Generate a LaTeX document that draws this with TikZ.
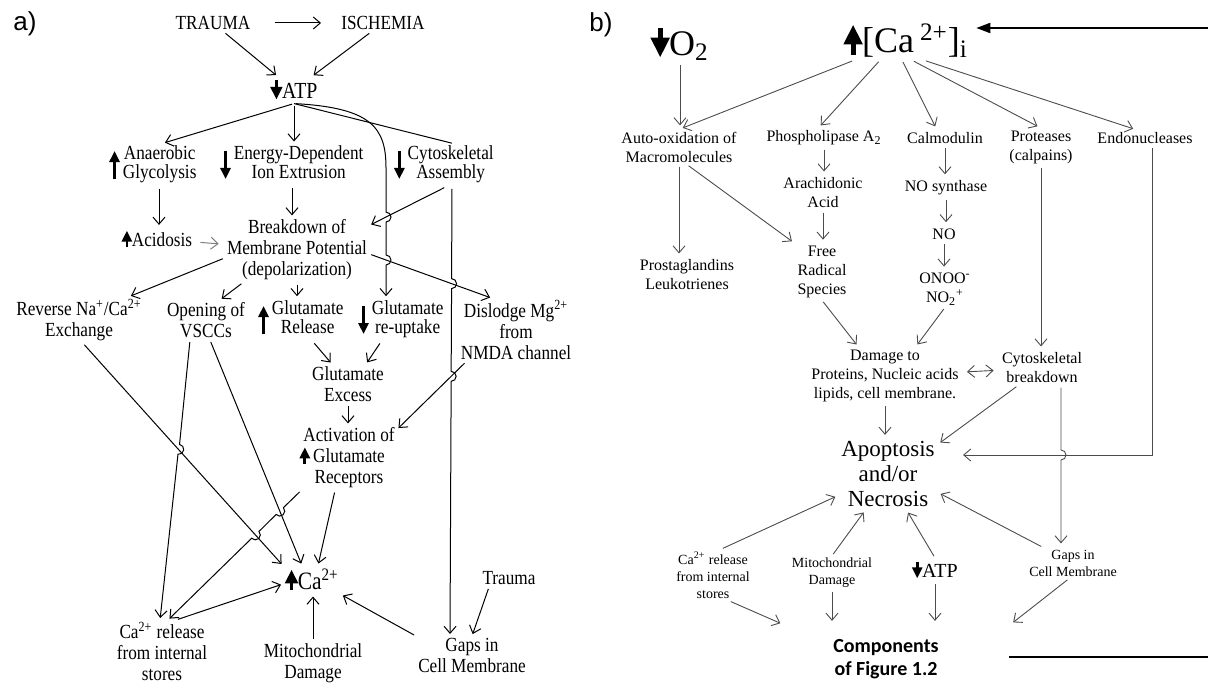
\documentclass[tikz,border=0pt]{standalone}
\usepackage{fontspec}
\setmainfont{Liberation Serif}
\newfontfamily\narrowserif[FakeStretch=0.86]{Liberation Serif}
\newfontfamily\panelsans{Liberation Sans}
\newfontfamily\calisans{Carlito}
\usetikzlibrary{arrows.meta,positioning,calc,intersections}

% bold up/down marks in front of the labels
\newcommand{\upar}{\tikz[baseline=0pt]\draw[fatarrow] (0,-.05em) -- (0,.78em);}
\newcommand{\dnar}{\tikz[baseline=0pt]\draw[fatarrow] (0,.78em) -- (0,-.05em);}
\newcommand{\upars}{\tikz[baseline=0pt]\draw[fatarrow] (0,-.45em) -- (0,.95em);}
\newcommand{\dnars}{\tikz[baseline=0pt]\draw[fatarrow] (0,.95em) -- (0,-.45em);}
\newcommand{\stk}[1]{{\renewcommand{\arraystretch}{.875}\begin{tabular}{@{}c@{}}#1\end{tabular}}}

\tikzset{
  >={Straight Barb[length=3.5pt,width=6pt]},
  fatarrow/.style={line width=.14em, -{Triangle[length=.55em,width=.5em]}},
  tag/.style={font=\panelsans\fontsize{13}{15}\selectfont, inner sep=0pt},
  lft/.style={font=\narrowserif\fontsize{10}{10.5}\selectfont, align=center, inner sep=1pt},
  lbig/.style={font=\narrowserif\fontsize{11.5}{12}\selectfont, inner sep=1pt},
  rgt/.style={font=\fontsize{8}{9.5}\selectfont, align=center, inner sep=1pt},
  rsm/.style={font=\fontsize{7}{8.5}\selectfont, align=center, inner sep=1pt},
  rbig/.style={font=\fontsize{18}{20}\selectfont, inner sep=1pt},
  apobox/.style={font=\fontsize{11.5}{12.5}\selectfont, align=center, inner sep=1pt},
  compbox/.style={font=\calisans\bfseries\fontsize{10}{11.5}\selectfont, align=center, inner sep=1pt},
  arr/.style={->, line width=.5pt, shorten <=1pt, shorten >=1pt},
  rarr/.style={->, line width=.45pt, black!70, shorten <=1pt, shorten >=2pt},
  thickarr/.style={line width=1pt, -{Triangle[length=7pt,width=5pt]}},
  frameline/.style={line width=1pt},
}

\begin{document}
\begin{tikzpicture}[x=0.5pt,y=-0.5pt]
\useasboundingbox (0,0) rectangle (1208,684);
\clip (0,0) rectangle (1208,684);

% ---------- panel a
\node[tag] (ta) at (25,24) {a)};
\node[lft] (trauma) at (213,23) {TRAUMA};
\node[lft] (ischemia) at (383,23) {ISCHEMIA};
\node[lbig] (atp) at (294,90) {\dnar ATP};
\node[lft] (glyc) at (153,165) {\upars\,\stk{Anaerobic\\Glycolysis}};
\node[lft] (ext) at (292,165) {\dnars\,\stk{Energy-Dependent\\Ion Extrusion}};
\node[lft] (cyto) at (444,165) {\dnars\,\stk{Cytoskeletal\\Assembly}};
\node[lft] (acid) at (157,239) {\upar Acidosis};
\node[lft] (brk) at (297,250) {Breakdown of\\Membrane Potential\\(depolarization)};
\node[lft] (rev) at (79,320) {Reverse Na\textsuperscript{+}/Ca\textsuperscript{2+}\\Exchange};
\node[lft] (vscc) at (206,320) {Opening of\\VSCCs};
\node[lft] (rel) at (301,320) {\upars\,\stk{Glutamate\\Release}};
\node[lft] (upt) at (401,320) {\dnars\,\stk{Glutamate\\re-uptake}};
\node[lft] (mg) at (516,330) {Dislodge Mg\textsuperscript{2+}\\from\\NMDA channel};
\node[lft] (exc) at (348,384) {Glutamate\\Excess};
\node[lft] (act) at (349,458) {Activation of\\\llap{\upar\,}Glutamate\\Receptors};
\node[lbig, font=\narrowserif\fontsize{12.5}{14}\selectfont] (ca) at (312,580) {\upar Ca\textsuperscript{2+}};
\node[lft] (trauma2) at (509,578) {Trauma};
\node[lft, anchor=north] (store) at (162,620) {Ca\textsuperscript{2+} release\\from internal\\stores};
\node[lft, anchor=north] (mito) at (313,641) {Mitochondrial\\Damage};
\node[lft, anchor=north] (gaps) at (472,636) {Gaps in\\Cell Membrane};

\draw[arr, shorten <=11pt, shorten >=9pt] (trauma) -- (ischemia);
\draw[arr] (trauma) -- (atp);
\draw[arr] (ischemia) -- (atp);
\draw[arr] (atp.south) -- ([xshift=5pt]glyc.north);
\draw[arr] (atp.south) -- (atp.south |- ext.north);
\draw[line width=.5pt] (atp.south) -- ([xshift=4pt]cyto.north);
\draw[arr] ([xshift=3pt]glyc.south) -- ([xshift=1pt]acid.north);
\draw[arr, black!50, shorten <=3pt, shorten >=3pt] (acid) -- (brk);
\draw[arr] (ext.south) -- (ext.south |- brk.north);
\draw[arr, name path=cybrk] ([xshift=1pt]cyto.south) -- ([yshift=-4pt]brk.north east);
\draw[arr, name path=brkmg] ([yshift=-2pt]brk.east) -- ([xshift=-12pt]mg.north);
\draw[arr, name path=mgact] ([xshift=-25pt]mg.south) -- ([yshift=-2pt]act.north east);
% curve from ATP, hopping over two lines
\path[name path=curvev] (386,150) -- (386,320);
\path[name intersections={of=curvev and cybrk, by=hopa}];
\path[name intersections={of=curvev and brkmg, by=hopb}];
\draw[arr] (atp.south) .. controls (372,108) and (386,128) .. (386,168)
  -- ([yshift=2.5pt]hopa) arc[start angle=90, end angle=-90, radius=2.5pt]
  -- ([yshift=2.5pt]hopb) arc[start angle=90, end angle=-90, radius=2.5pt]
  -- (386,0 |- upt.north);
% long line from the cytoskeleton to the membrane gaps
\path[name path=cytov] ([xshift=4pt]cyto.south) -- ([xshift=-11pt]gaps.north);
\path[name intersections={of=cytov and brkmg, by=hopc}];
\path[name intersections={of=cytov and mgact, by=hopd}];
\draw[arr] ([xshift=4pt]cyto.south)
  -- ([yshift=2.5pt]hopc) arc[start angle=90, end angle=-90, radius=2.5pt]
  -- ([yshift=2.5pt]hopd) arc[start angle=90, end angle=-90, radius=2.5pt]
  -- ([xshift=-11pt]gaps.north);
\draw[arr] ([yshift=-4pt]brk.west) -- ([xshift=25pt]rev.north);
\draw[arr] ([xshift=-27pt]brk.south) -- ([xshift=7pt]vscc.north);
\draw[arr] (brk.south) -- (brk.south |- rel.north);
\draw[arr] ([xshift=6pt]rel.south) -- ([xshift=-8pt]exc.north);
\draw[arr] ([xshift=-10pt]upt.south) -- ([xshift=9pt]exc.north);
\draw[arr] (exc.south) -- (exc.south |- act.north);
\draw[arr] ([xshift=-7pt]act.south) -- ([xshift=3pt]ca.north);
\draw[arr, name path=revca] ([xshift=2pt]rev.south) -- (ca.north west);
\draw[arr, name path=vsccca] ([xshift=2pt]vscc.south) -- ([xshift=-5pt]ca.north);
\path[name path=vsccst] ([xshift=-8pt]vscc.south) -- ([xshift=-1pt]store.north);
\path[name intersections={of=vsccst and revca, by=hope}];
\draw[arr] let \p1=($(vscc.south)-(store.north)$), \n1={atan2(\y1,\x1)} in
  ([xshift=-8pt]vscc.south) -- ($(hope)!2.5pt!(vscc.south)$)
  arc[start angle=\n1, delta angle=-180, radius=2.5pt] -- ([xshift=-1pt]store.north);
\path[name path=actst] (act.south west) -- ([xshift=3pt]store.north);
\path[name intersections={of=actst and vsccca, by=hopf}];
\path[name intersections={of=actst and revca, by=hopg}];
\draw[arr] let \p1=($(act.south west)-(store.north)$), \n1={atan2(\y1,\x1)} in
  (act.south west) -- ($(hopf)!2.5pt!(act.south west)$)
  arc[start angle=\n1, delta angle=-180, radius=2.5pt]
  -- ($(hopg)!2.5pt!(act.south west)$)
  arc[start angle=\n1, delta angle=-180, radius=2.5pt] -- ([xshift=3pt]store.north);
\draw[arr] ([xshift=7pt]store.north) -- ([yshift=-2pt]ca.west);
\draw[arr] (mito.north) -- (mito.north |- ca.south);
\draw[arr] (gaps.north west) -- (ca.south east);
\draw[arr] ([xshift=-10pt]trauma2.south) -- (gaps.north);

% ---------- panel b
\node[tag] (tb) at (601,25) {b)};
\node[rbig] (o2) at (680,43) {\dnar O\textsubscript{2}};
\node[rbig] (cai) at (906,40) {\upar[Ca\,\textsuperscript{2+}]\textsubscript{i}};
\node[rgt] (auto) at (679,147) {Auto-oxidation of\\Macromolecules};
\node[rgt] (pla) at (824,138) {Phospholipase A\textsubscript{2}};
\node[rgt] (calm) at (945,138) {Calmodulin};
\node[rgt] (prot) at (1041,147) {Proteases\\(calpains)};
\node[rgt] (endo) at (1145,138) {Endonucleases};
\node[rgt] (ara) at (823,193) {Arachidonic\\Acid};
\node[rgt] (nos) at (946,188) {NO synthase};
\node[rgt] (no) at (944,234) {NO};
\node[rgt] (prost) at (687,275) {Prostaglandins\\Leukotrienes};
\node[rgt] (frs) at (822,272) {Free\\Radical\\Species};
\node[rgt] (onoo) at (945,289) {ONOO\textsuperscript{-}\\NO\textsubscript{2}\textsuperscript{+}};
\node[rgt] (dmg) at (885,376) {Damage to\\Proteins, Nucleic acids\\lipids, cell membrane.};
\node[rgt] (cytb) at (1042,368) {Cytoskeletal\\breakdown};
\node[apobox] (apo) at (888,474) {Apoptosis\\and/or\\Necrosis};
\node[rsm] (rcast) at (713,575) {Ca\textsuperscript{2+} release\\from internal\\stores};
\node[rsm] (rmito) at (832,573) {Mitochondrial\\Damage};
\node[rgt, font=\fontsize{10}{11}\selectfont] (ratp) at (935,570) {\dnar ATP};
\node[rsm] (rgaps) at (1073,563) {Gaps in\\Cell Membrane};
\node[compbox] (comp) at (886,659) {Components\\of Figure 1.2};
\coordinate (rtop) at (1208,28);
\coordinate (rbot) at (1208,657);
\coordinate (cin) at ([yshift=6pt]comp.north);
\coordinate (cytdrop) at ([xshift=9.5pt]cytb.south);

\draw[thickarr, shorten >=3pt] (rtop) -- (rtop -| cai.east);
\draw[frameline] (rbot) -- ++(-199,0);
\draw[rarr] (o2.south) -- (o2.south |- auto.north);
\draw[rarr] ([xshift=-26pt]cai.south) -- (auto.north);
\draw[rarr] ([xshift=-13pt]cai.south) -- ([xshift=-3pt]pla.north);
\draw[rarr] ([xshift=-2pt]cai.south) -- ([xshift=-4pt]calm.north);
\draw[rarr] ([xshift=3pt]cai.south) -- (prot.north);
\draw[rarr] ([xshift=9pt]cai.south) -- ([xshift=-4pt]endo.north);
\draw[rarr] (pla.south) -- (pla.south |- ara.north);
\draw[rarr] (calm.south) -- (calm.south |- nos.north);
\draw[rarr] (nos.south) -- (nos.south |- no.north);
\draw[rarr] (no.south) -- (no.south |- onoo.north);
\draw[rarr] (auto.south) -- (auto.south |- prost.north);
\draw[rarr] ([xshift=4pt]auto.south) -- (frs.north west);
\draw[rarr] (ara.south) -- (ara.south |- frs.north);
\draw[rarr] (frs.south) -- ([xshift=-13pt]dmg.north);
\draw[rarr] (onoo.south) -- ([xshift=15pt]dmg.north);
\draw[rarr] (prot.south) -- (prot.south |- cytb.north);
\draw[rarr, <->, shorten <=3pt, shorten >=3pt] (dmg) -- (cytb);
\draw[rarr] (dmg.south) -- (dmg.south |- apo.north);
\draw[rarr] ([xshift=-12pt]cytb.south) -- ([yshift=-3pt]apo.north east);
\draw[rarr, shorten >=13pt, name path=endoline] ([xshift=3.5pt]endo.south) |- ([yshift=9.5pt]apo.east);
\path[name path=cytv] (cytdrop) -- (cytdrop |- rgaps.north);
\path[name intersections={of=cytv and endoline, by=hoph}];
\draw[rarr] (cytdrop) -- ([yshift=2.5pt]hoph) arc[start angle=90, end angle=-90, radius=2.5pt]
  -- (cytdrop |- rgaps.north);
\draw[rarr] ([xshift=4pt]rcast.north) -- ([yshift=7pt]apo.south west);
\draw[rarr] (rmito.north) -- ([xshift=-11pt]apo.south);
\draw[rarr] (ratp.north) -- ([xshift=9pt]apo.south);
\draw[rarr] ([xshift=-15pt]rgaps.north) -- ([yshift=-9pt]apo.east);
\draw[rarr] ([xshift=8pt]rcast.south) -- ([xshift=-51pt]cin);
\draw[rarr] (rmito.south) -- (rmito.south |- cin);
\draw[rarr] (ratp.south) -- (ratp.south |- cin);
\draw[rarr] ([xshift=-2pt]rgaps.south) -- ([xshift=62pt]cin);
\end{tikzpicture}
\end{document}
